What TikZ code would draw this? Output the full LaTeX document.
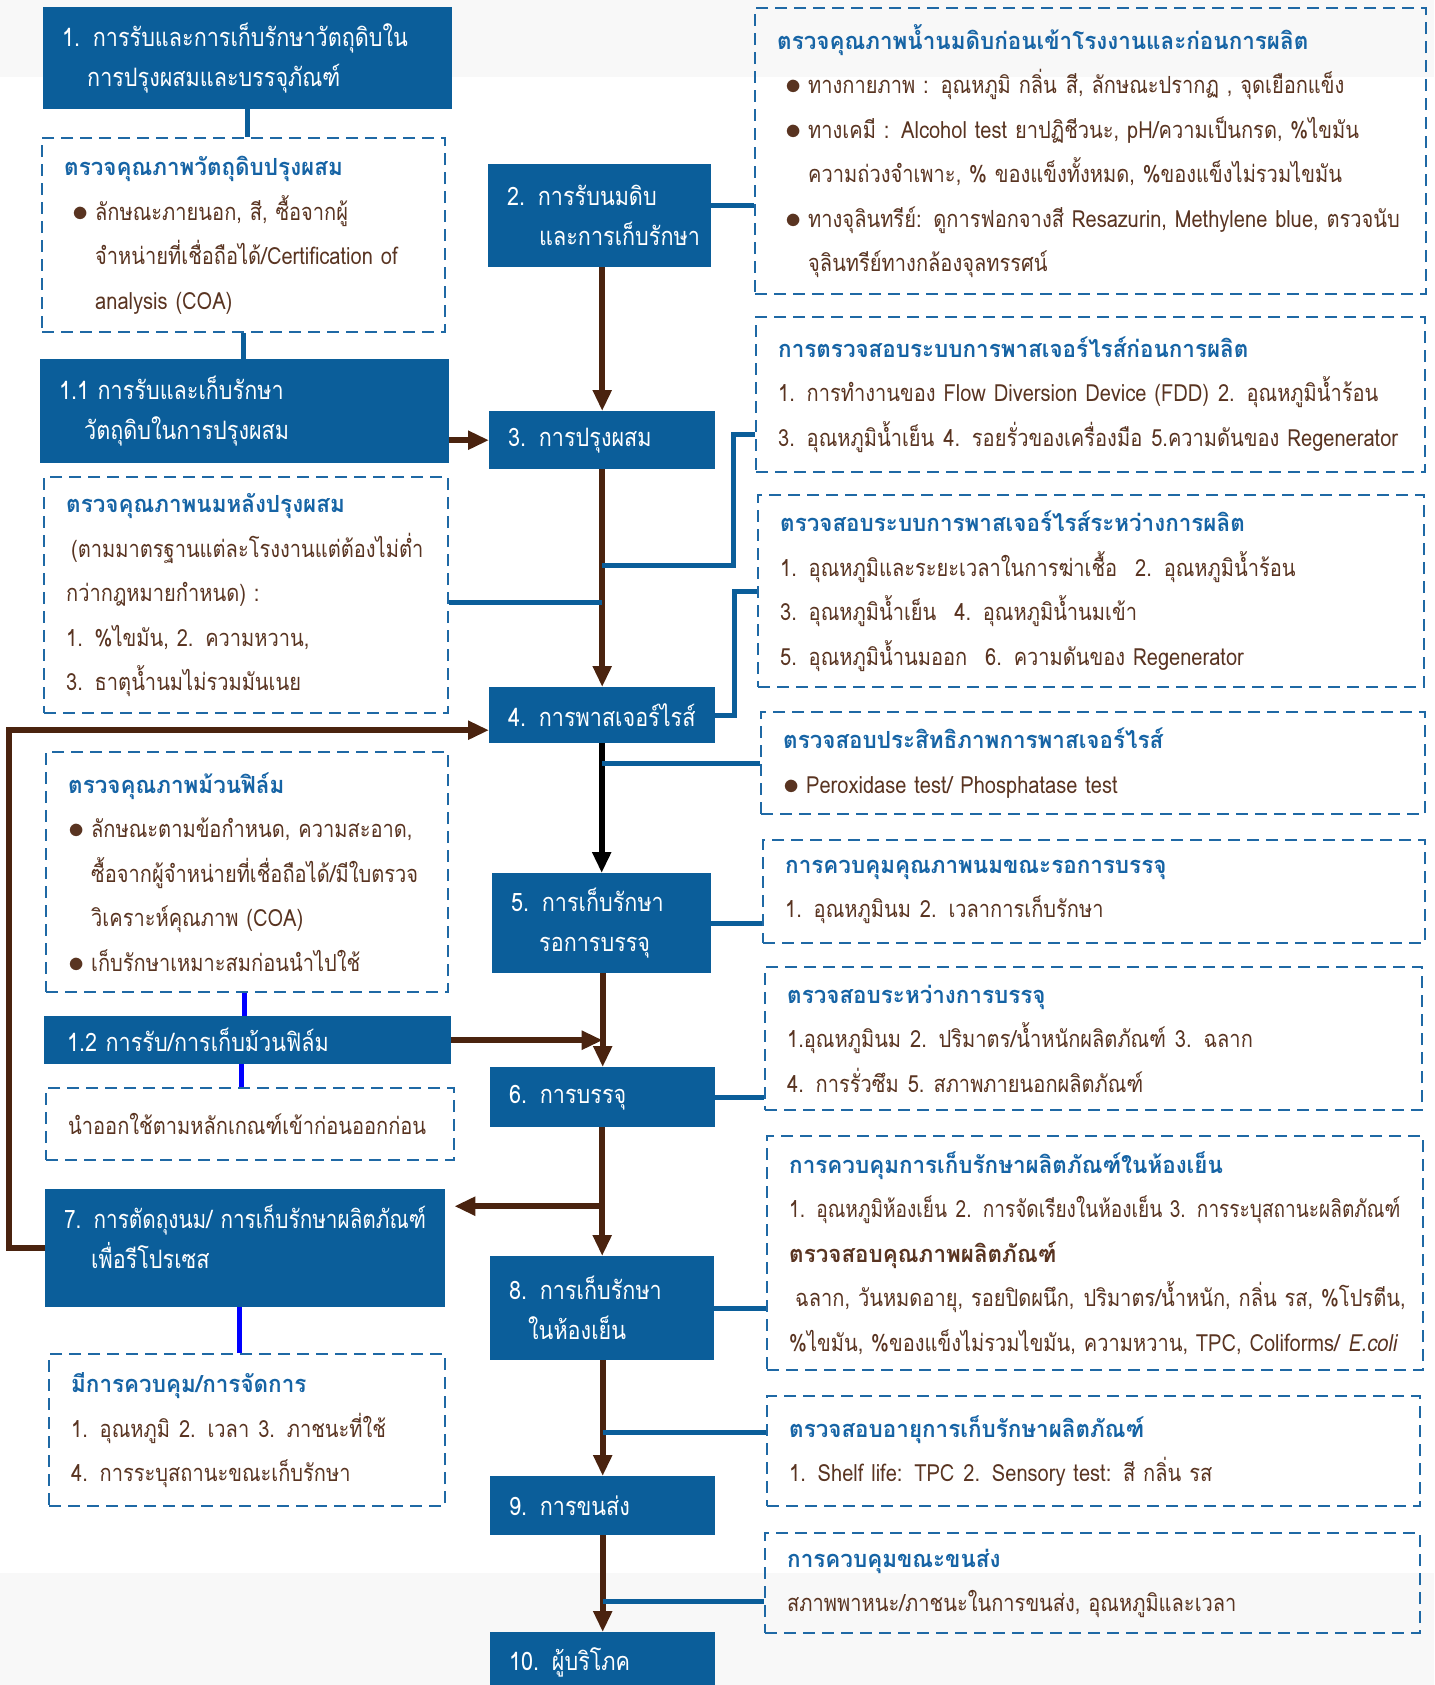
\documentclass[tikz,border=0pt]{standalone}
\usepackage{fontspec}
\usepackage{graphicx}
\usetikzlibrary{arrows.meta, calc}
\newfontfamily\thaifont[Script=Thai, FakeStretch=0.85]{Loma}
\newfontfamily\hdfont[Script=Thai, FakeStretch=0.95]{Loma}
\definecolor{boxblue}{RGB}{11,94,154}
\definecolor{dashblue}{RGB}{31,105,165}
\definecolor{hdblue}{RGB}{22,100,165}
\definecolor{txtbrown}{RGB}{89,52,33}
\definecolor{flowbrown}{RGB}{74,35,15}
\definecolor{pureblue}{RGB}{0,0,255}
\definecolor{bggray}{RGB}{248,248,248}
\newcommand\hd[1]{{\hdfont\bfseries\color{hdblue}#1}}
\newcommand\hdb[1]{{\hdfont\bfseries#1}}
\newcommand\itm[2][8pt]{\par\hangindent=\dimexpr#1+23pt\relax\hangafter=1\noindent
  \hspace*{#1}\makebox[23pt][l]{\raisebox{-1pt}{\scalebox{1.3}{$\bullet$}}}#2\par}
\newcommand\gap{\hspace{9pt}}

\begin{document}
\begin{tikzpicture}[x=1pt, y=-1pt,
    pbox/.style={fill=boxblue, text=white, anchor=north west, align=left,
                 inner xsep=0pt, inner ysep=0pt, execute at begin node={\leftskip=#1},
                 font=\thaifont\fontsize{25.4}{40}\selectfont},
    pbox/.default=19pt,
    chk/.style={draw=dashblue, line width=2.4pt, dash pattern=on 12pt off 7pt,
                anchor=north west, align=left, inner xsep=0pt, inner ysep=0pt,
                execute at begin node={\leftskip=#1}, text=txtbrown,
                font=\thaifont\fontsize{23.6}{44.5}\selectfont},
    chk/.default=22pt,
    flow/.style={draw=flowbrown, line width=6pt, -{Triangle[length=21pt,width=18pt]}},
    tap/.style={draw=boxblue, line width=5pt},
    film/.style={draw=pureblue, line width=5pt}]
  \useasboundingbox (0,0) rectangle (1434,1685);
  \fill[bggray] (0,0) rectangle (1434,77);
  \fill[bggray] (0,1573) rectangle (1434,1685);

  % ขั้นตอนหลัก
  \node[pbox, text width=409pt, minimum height=102pt] (B1) at (43,7)
    {1. การรับและการเก็บรักษาวัตถุดิบใน\newline\hspace*{25pt}การปรุงผสมและบรรจุภัณฑ์};
  \node[pbox, text width=409pt, minimum height=104pt] (B11) at (40,359)
    {1.1 การรับและเก็บรักษา\newline\hspace*{25pt}วัตถุดิบในการปรุงผสม};
  \node[pbox=23pt, text width=407pt, minimum height=48pt] (B12) at (44,1016)
    {1.2 การรับ/การเก็บม้วนฟิล์ม};
  \node[pbox, text width=223pt, minimum height=103pt] (B2) at (488,164)
    {2. การรับนมดิบ\newline\hspace*{32pt}และการเก็บรักษา};
  \node[pbox, text width=226pt, minimum height=58pt] (B3) at (489,411) {3. การปรุงผสม};
  \node[pbox, text width=226pt, minimum height=56pt] (B4) at (489,687) {4. การพาสเจอร์ไรส์};
  \node[pbox, text width=219pt, minimum height=100pt] (B5) at (492,873)
    {5. การเก็บรักษา\newline\hspace*{28pt}รอการบรรจุ};
  \node[pbox, text width=225pt, minimum height=60pt] (B6) at (490,1067) {6. การบรรจุ};
  \node[pbox, text width=400pt, minimum height=118pt] (B7) at (45,1189)
    {\scalebox{0.96}[1]{7. การตัดถุงนม/ การเก็บรักษาผลิตภัณฑ์}\newline\hspace*{27pt}เพื่อรีโปรเซส\par
     \vspace{22pt}\hrule height 0pt};
  \node[pbox, text width=224pt, minimum height=104pt] (B8) at (490,1256)
    {8. การเก็บรักษา\newline\hspace*{19pt}ในห้องเย็น};
  \node[pbox, text width=225pt, minimum height=59pt] (B9) at (490,1476) {9. การขนส่ง};
  \node[pbox, text width=225pt, minimum height=60pt] (B10) at (490,1632) {10. ผู้บริโภค};

  % กรอบตรวจสอบ
  \node[chk, text width=403pt, minimum height=194pt] (D1a) at (41,137)
    {\hd{ตรวจคุณภาพวัตถุดิบปรุงผสม}
     \itm{ลักษณะภายนอก, สี, ซื้อจากผู้\newline จำหน่ายที่เชื่อถือได้/Certification of\newline analysis (COA)}};
  \node[chk, text width=404pt, minimum height=236pt] (D1b) at (43,476)
    {\hd{ตรวจคุณภาพนมหลังปรุงผสม}\newline
     \hspace*{5pt}(ตามมาตรฐานแต่ละโรงงานแต่ต้องไม่ต่ำ\newline
     กว่ากฎหมายกำหนด) :\newline
     1. \%ไขมัน, 2. ความหวาน,\newline
     3. ธาตุน้ำนมไม่รวมมันเนย};
  \node[chk, text width=671pt, minimum height=286pt] (D2) at (754,7)
    {\hd{ตรวจคุณภาพน้ำนมดิบก่อนเข้าโรงงานและก่อนการผลิต}
     \itm{ทางกายภาพ : อุณหภูมิ กลิ่น\gap สี, ลักษณะปรากฏ , จุดเยือกแข็ง}
     \itm{ทางเคมี : Alcohol test ยาปฏิชีวนะ, pH/ความเป็นกรด, \%ไขมัน\newline
          ความถ่วงจำเพาะ, \% ของแข็งทั้งหมด, \%ของแข็งไม่รวมไขมัน}
     \itm{ทางจุลินทรีย์: ดูการฟอกจางสี Resazurin, Methylene blue, ตรวจนับ\newline
          จุลินทรีย์ทางกล้องจุลทรรศน์}};
  \node[chk, text width=669pt, minimum height=155pt] (D3a) at (755,316)
    {\hd{การตรวจสอบระบบการพาสเจอร์ไรส์ก่อนการผลิต}\newline
     1. การทำงานของ Flow Diversion Device (FDD)\gap 2. อุณหภูมิน้ำร้อน\newline
     3. อุณหภูมิน้ำเย็น\gap 4. รอยรั่วของเครื่องมือ\gap 5.ความดันของ Regenerator};
  \node[chk, text width=666pt, minimum height=192pt] (D3b) at (757,494)
    {\hd{ตรวจสอบระบบการพาสเจอร์ไรส์ระหว่างการผลิต}\newline
     1. อุณหภูมิและระยะเวลาในการฆ่าเชื้อ\gap\gap 2. อุณหภูมิน้ำร้อน\newline
     3. อุณหภูมิน้ำเย็น\gap\gap 4. อุณหภูมิน้ำนมเข้า\newline
     5. อุณหภูมิน้ำนมออก\gap\gap 6. ความดันของ Regenerator};
  \node[chk, text width=664pt, minimum height=102pt] (D4) at (760,711)
    {\hd{ตรวจสอบประสิทธิภาพการพาสเจอร์ไรส์}
     \itm[0pt]{Peroxidase test/ Phosphatase test}};
  \node[chk, text width=662pt, minimum height=103pt] (D5) at (762,839)
    {\hd{การควบคุมคุณภาพนมขณะรอการบรรจุ}\newline
     1. อุณหภูมินม\gap 2. เวลาการเก็บรักษา};
  \node[chk, text width=657pt, minimum height=143pt] (D6) at (764,966)
    {\hd{ตรวจสอบระหว่างการบรรจุ}\newline
     1.อุณหภูมินม\gap 2. ปริมาตร/น้ำหนักผลิตภัณฑ์\gap 3. ฉลาก\newline
     4. การรั่วซึม\gap 5.\gap สภาพภายนอกผลิตภัณฑ์};
  \node[chk, text width=402pt, minimum height=240pt] (D7a) at (45,751)
    {\hd{ตรวจคุณภาพม้วนฟิล์ม}
     \itm[0pt]{ลักษณะตามข้อกำหนด, ความสะอาด,\newline
          ซื้อจากผู้จำหน่ายที่เชื่อถือได้/มีใบตรวจ\newline
          วิเคราะห์คุณภาพ (COA)}
     \itm[0pt]{เก็บรักษาเหมาะสมก่อนนำไปใช้}};
  \node[chk, text width=408pt, minimum height=72pt] (D7b) at (45,1087)
    {นำออกใช้ตามหลักเกณฑ์เข้าก่อนออกก่อน};
  \node[chk, text width=396pt, minimum height=152pt] (D8) at (48,1353)
    {\hd{มีการควบคุม/การจัดการ}\newline
     1. อุณหภูมิ\gap 2. เวลา\gap 3. ภาชนะที่ใช้\newline
     4. การระบุสถานะขณะเก็บรักษา};
  \node[chk, text width=656pt, minimum height=234pt] (D9) at (766,1135)
    {\hd{การควบคุมการเก็บรักษาผลิตภัณฑ์ในห้องเย็น}\newline
     \scalebox{0.95}[1]{1. อุณหภูมิห้องเย็น\gap 2. การจัดเรียงในห้องเย็น 3. การระบุสถานะผลิตภัณฑ์}\newline
     \hdb{ตรวจสอบคุณภาพผลิตภัณฑ์}\newline
     \hspace*{6pt}ฉลาก, วันหมดอายุ, รอยปิดผนึก,\gap ปริมาตร/น้ำหนัก, กลิ่น รส, \%โปรตีน,\newline
     \%ไขมัน, \%ของแข็งไม่รวมไขมัน, ความหวาน, TPC, Coliforms/ \textit{E.coli}};
  \node[chk, text width=653pt, minimum height=110pt] (D10) at (766,1395)
    {\hd{ตรวจสอบอายุการเก็บรักษาผลิตภัณฑ์}\newline
     1. Shelf life: TPC\gap 2. Sensory test: สี กลิ่น รส};
  \node[chk, text width=655pt, minimum height=100pt] (D11) at (764,1532)
    {\hd{การควบคุมขณะขนส่ง}\newline
     สภาพพาหนะ/ภาชนะในการขนส่ง, อุณหภูมิและเวลา};

  % เส้นเชื่อมวัตถุดิบ
  \draw[tap] (B1.south) -- (B1.south |- D1a.north);
  \draw[tap] (D1a.south) -- (D1a.south |- B11.north);
  \draw[flow] (B11.east |- B3.west) -- (B3.west);
  \draw[tap] ([yshift=10pt]B2.east) -- ([yshift=10pt]B2.east -| D2.west);

  % ลำดับการผลิต
  \foreach \a/\b in {B2/B3, B3/B4, B5/B6, B6/B8, B8/B9, B9/B10}
    \draw[flow] (\a.south -| \b.north) -- (\b.north);
  \draw[flow, draw=black] (B4.south -| B5.north) -- (B5.north);

  % จุดตรวจ
  \coordinate (j3) at ($(B3.south)!0.44!(B4.north)$);
  \draw[tap] (j3) -- ++(131,0) |- ([yshift=-40pt]D3a.west);
  \draw[tap] ([yshift=-7pt]D1b.east) -- ([yshift=-7pt]D1b.east -| B3.south);
  \draw[tap] (B4.east) -- ++(19,0) |- (D3b.west);
  \draw[tap] (D4.west -| B4.south) -- (D4.west);
  \foreach \a/\b in {B5/D5, B6/D6, B8/D9}
    \draw[tap] (\a.east) -- (\a.east -| \b.west);
  \draw[tap] ([yshift=19pt]D10.west -| B9.north) -- ([yshift=19pt]D10.west);
  \draw[tap] ([yshift=-18pt]D11.west -| B10.north) -- ([yshift=-18pt]D11.west);

  % ม้วนฟิล์มและรีโปรเซส
  \draw[film] ([xshift=-3pt]D7a.south) -- ([xshift=-3pt]D7a.south |- B12.north);
  \draw[film] ([xshift=-6pt]B12.south) -- ([xshift=-6pt]B12.south |- D7b.north);
  \draw[film] ([xshift=-6pt]B7.south) -- ([xshift=-6pt]B7.south |- D8.north);
  \draw[flow] (B12.east) -- (B12.east -| B6.north);
  \draw[flow] ([yshift=42pt]B7.east -| B8.north) -- ([xshift=9pt, yshift=42pt]B7.east);
  \draw[flow] (B7.west) -- ++(-36,0) |- ([yshift=-15pt]B4.west);
\end{tikzpicture}
\end{document}
